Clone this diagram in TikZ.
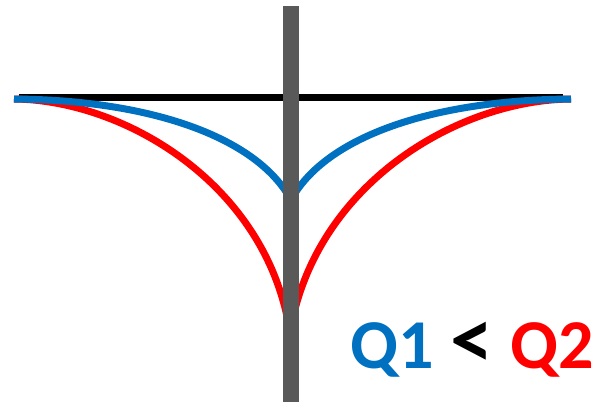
\documentclass[tikz,border=0pt]{standalone}
\usepackage{fontspec}
\setmainfont{Carlito}
\definecolor{qblue}{HTML}{0070C0}
\definecolor{qred}{HTML}{FF0000}
\definecolor{bargray}{HTML}{595959}
\begin{document}
\begin{tikzpicture}[x=1pt,y=-1pt,
  curve/.style={line width=7pt},
  lbl/.style={font=\bfseries\fontsize{70}{70}\selectfont, inner sep=0pt}]
\useasboundingbox (0,0) rectangle (597,402);
\coordinate (L) at (14,99);
\coordinate (R) at (571,99);
\coordinate (B) at (291,200);
\coordinate (D) at (290,333);
\draw[line width=7pt] (19,97) -- (563,97);
\draw[curve, qred] (L) .. controls (125,100) and (268,185) .. (D);
\draw[curve, qred] (R) .. controls (457,100) and (314,185) .. (D);
\draw[curve, qblue] (L) .. controls (150,100) and (257,137) .. (B);
\draw[curve, qblue] (R) .. controls (432,100) and (325,137) .. (B);
\fill[bargray] (283,6) rectangle (299,402);
\node[lbl, anchor=base west, text=qblue] (q1) at (350,368) {Q1};
\node[lbl, font=\bfseries\fontsize{86}{86}\selectfont, anchor=base, text=black] (lt) at (472,368) {<};
\node[lbl, anchor=base west, text=qred] (q2) at (510,368) {Q2};
\end{tikzpicture}
\end{document}
